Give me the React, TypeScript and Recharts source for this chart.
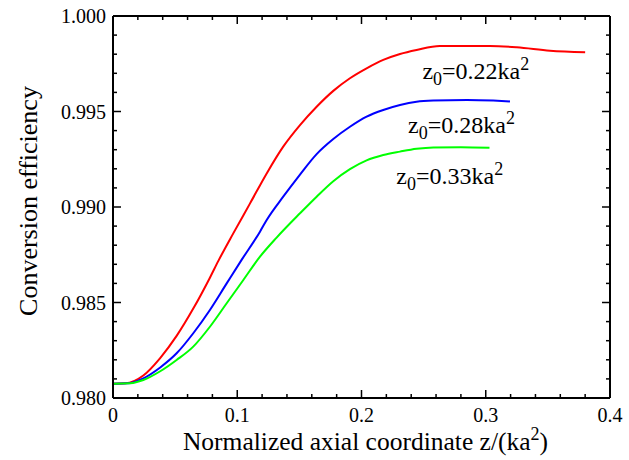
import { LineChart, Line, XAxis, YAxis, ReferenceDot } from 'recharts';

// z/(ka^2) vs conversion efficiency, one array per z0
const red022 = [
  [0, 0.98075], [0.01, 0.98077], [0.0244, 0.98118], [0.0378, 0.98208], [0.0512, 0.98325],
  [0.0646, 0.98468], [0.078, 0.9863], [0.0848, 0.98718], [0.0968, 0.98862], [0.1103, 0.99019],
  [0.1237, 0.99176], [0.137, 0.99316], [0.1505, 0.99429], [0.1639, 0.99525], [0.1773, 0.99608],
  [0.1907, 0.99674], [0.2041, 0.99726], [0.2175, 0.9977], [0.231, 0.99801], [0.2443, 0.99822],
  [0.263, 0.99843], [0.3034, 0.99843], [0.325, 0.99836], [0.3517, 0.99818], [0.38, 0.9981],
];
const blue028 = [
  [0, 0.98075], [0.012, 0.98077], [0.0244, 0.98103], [0.038, 0.9816], [0.0512, 0.98234],
  [0.0646, 0.98339], [0.078, 0.98461], [0.0915, 0.986], [0.1035, 0.98723], [0.1183, 0.98871],
  [0.1237, 0.98932], [0.137, 0.99054], [0.1505, 0.9917], [0.1639, 0.99277], [0.1773, 0.99356],
  [0.1907, 0.9942], [0.2041, 0.99473], [0.2175, 0.99508], [0.231, 0.99534], [0.2443, 0.99551],
  [0.2578, 0.99557], [0.285, 0.9956], [0.306, 0.99557], [0.3195, 0.99553],
];
const green033 = [
  [0, 0.98075], [0.014, 0.98077], [0.0244, 0.98094], [0.038, 0.9814], [0.0512, 0.98199],
  [0.0646, 0.98269], [0.078, 0.98373], [0.0915, 0.98496], [0.1049, 0.98618], [0.1183, 0.9874],
  [0.1317, 0.9884], [0.1505, 0.98967], [0.1639, 0.99054], [0.1773, 0.99135], [0.1907, 0.99198],
  [0.2041, 0.99244], [0.2175, 0.99272], [0.231, 0.9929], [0.2443, 0.99305], [0.2578, 0.99312],
  [0.28, 0.99313], [0.303, 0.9931],
];

const xTicks = [0, 0.02, 0.04, 0.06, 0.08, 0.1, 0.12, 0.14, 0.16, 0.18, 0.2, 0.22, 0.24, 0.26, 0.28, 0.3, 0.32, 0.34, 0.36, 0.38, 0.4];
const xLabels: Record<string, string> = { '0': '0', '0.1': '0.1', '0.2': '0.2', '0.3': '0.3', '0.4': '0.4' };
const yTicks = [0.98, 0.981, 0.982, 0.983, 0.984, 0.985, 0.986, 0.987, 0.988, 0.989, 0.99, 0.991, 0.992, 0.993, 0.994, 0.995, 0.996, 0.997, 0.998, 0.999, 1.0];
const yLabels: Record<string, string> = { '0.98': '0.980', '0.985': '0.985', '0.99': '0.990', '0.995': '0.995', '1': '1.000' };

const curves = [
  { name: '0.22', points: red022, color: '#ff0000', labelAt: [0.249, 0.99668] },
  { name: '0.28', points: blue028, color: '#0000ff', labelAt: [0.2375, 0.99385] },
  { name: '0.33', points: green033, color: '#00ff00', labelAt: [0.228, 0.99118] },
];

const serif = { fontFamily: "'Liberation Serif', 'Times New Roman', Times, serif" };
const tickStroke = { stroke: '#000', strokeWidth: 1.5 };

const toRows = (pts: number[][]) => pts.map(([z, eff]) => ({ z, eff }));

const renderBottomTick = ({ x, y, payload }: any) => {
  const label = xLabels[String(payload.value)];
  return (
    <g>
      <path d={`M${x},${y}V${y - (label ? 8 : 4)}`} style={tickStroke} />
      {label && (
        <text x={x} y={y + 24} textAnchor="middle" style={{ ...serif, fontSize: 20, fill: '#000' }}>
          {label}
        </text>
      )}
    </g>
  );
};

const renderTopTick = ({ x, y, payload }: any) => {
  const major = !!xLabels[String(payload.value)];
  return <path d={`M${x},${y}V${y + (major ? 8 : 4)}`} style={tickStroke} />;
};

const renderLeftTick = ({ x, y, payload }: any) => {
  const label = yLabels[String(payload.value)];
  return (
    <g>
      <path d={`M${x},${y}H${x + (label ? 8 : 4)}`} style={tickStroke} />
      {label && (
        <text x={x - 7} y={y + 7} textAnchor="end" style={{ ...serif, fontSize: 20, fill: '#000' }}>
          {label}
        </text>
      )}
    </g>
  );
};

const renderRightTick = ({ x, y, payload }: any) => {
  const major = !!yLabels[String(payload.value)];
  return <path d={`M${x},${y}H${x - (major ? 8 : 4)}`} style={tickStroke} />;
};

const CurveLabel = (name: string) => (props: any) => (
  <text x={props.cx} y={props.cy} style={{ ...serif, fontSize: 24, fill: '#000' }}>
    z<tspan dy={6} style={{ fontSize: 18 }}>0</tspan>
    <tspan dy={-6}>={name}ka</tspan>
    <tspan dy={-9} style={{ fontSize: 18 }}>2</tspan>
  </text>
);

export default function App() {
  const axisLine = { stroke: '#000', strokeWidth: 2 };
  return (
    <div style={{ position: 'absolute', left: 0, top: 0, width: 629, height: 460, background: '#fff' }}>
      <LineChart width={629} height={460} margin={{ top: 15, right: 18, bottom: 0, left: 0 }}>
        <XAxis
          xAxisId="b"
          type="number"
          dataKey="z"
          domain={[0, 0.4]}
          ticks={xTicks}
          interval={0}
          height={62}
          tickSize={0}
          tickMargin={0}
          tickLine={false}
          axisLine={axisLine}
          tick={renderBottomTick}
          allowDataOverflow
          label={{
            content: ({ viewBox }: any) => (
              <text
                x={viewBox.x + viewBox.width / 2 + 4}
                y={viewBox.y + 52}
                textAnchor="middle"
                style={{ ...serif, fontSize: 25.5, fill: '#000' }}
              >
                Normalized axial coordinate z/(ka<tspan dy={-10} style={{ fontSize: 18 }}>2</tspan>
                <tspan dy={10}>)</tspan>
              </text>
            ),
          }}
        />
        <XAxis
          xAxisId="t"
          orientation="top"
          type="number"
          dataKey="z"
          domain={[0, 0.4]}
          ticks={xTicks}
          interval={0}
          height={1}
          tickSize={0}
          tickMargin={0}
          tickLine={false}
          axisLine={axisLine}
          tick={renderTopTick}
          allowDataOverflow
        />
        <YAxis
          yAxisId="l"
          type="number"
          domain={[0.98, 1.0]}
          ticks={yTicks}
          interval={0}
          width={113}
          tickSize={0}
          tickMargin={0}
          tickLine={false}
          axisLine={axisLine}
          tick={renderLeftTick}
          allowDataOverflow
          label={{
            content: ({ viewBox }: any) => {
              const cy = viewBox.y + viewBox.height / 2 - 6;
              return (
                <text
                  x={37}
                  y={cy}
                  transform={`rotate(-90, 37, ${cy})`}
                  textAnchor="middle"
                  style={{ ...serif, fontSize: 26, fill: '#000' }}
                >
                  Conversion efficiency
                </text>
              );
            },
          }}
        />
        <YAxis
          yAxisId="r"
          orientation="right"
          type="number"
          domain={[0.98, 1.0]}
          ticks={yTicks}
          interval={0}
          width={1}
          tickSize={0}
          tickMargin={0}
          tickLine={false}
          axisLine={axisLine}
          tick={renderRightTick}
          allowDataOverflow
        />
        {curves.map((c) => (
          <Line
            key={c.name}
            xAxisId="b"
            yAxisId="l"
            data={toRows(c.points)}
            dataKey="eff"
            type="monotone"
            stroke={c.color}
            strokeWidth={2}
            dot={false}
            isAnimationActive={false}
          />
        ))}
        {curves.map((c) => (
          <ReferenceDot
            key={`lbl-${c.name}`}
            xAxisId="b"
            yAxisId="l"
            x={c.labelAt[0]}
            y={c.labelAt[1]}
            r={0}
            ifOverflow="visible"
            shape={CurveLabel(c.name)}
          />
        ))}
      </LineChart>
    </div>
  );
}
